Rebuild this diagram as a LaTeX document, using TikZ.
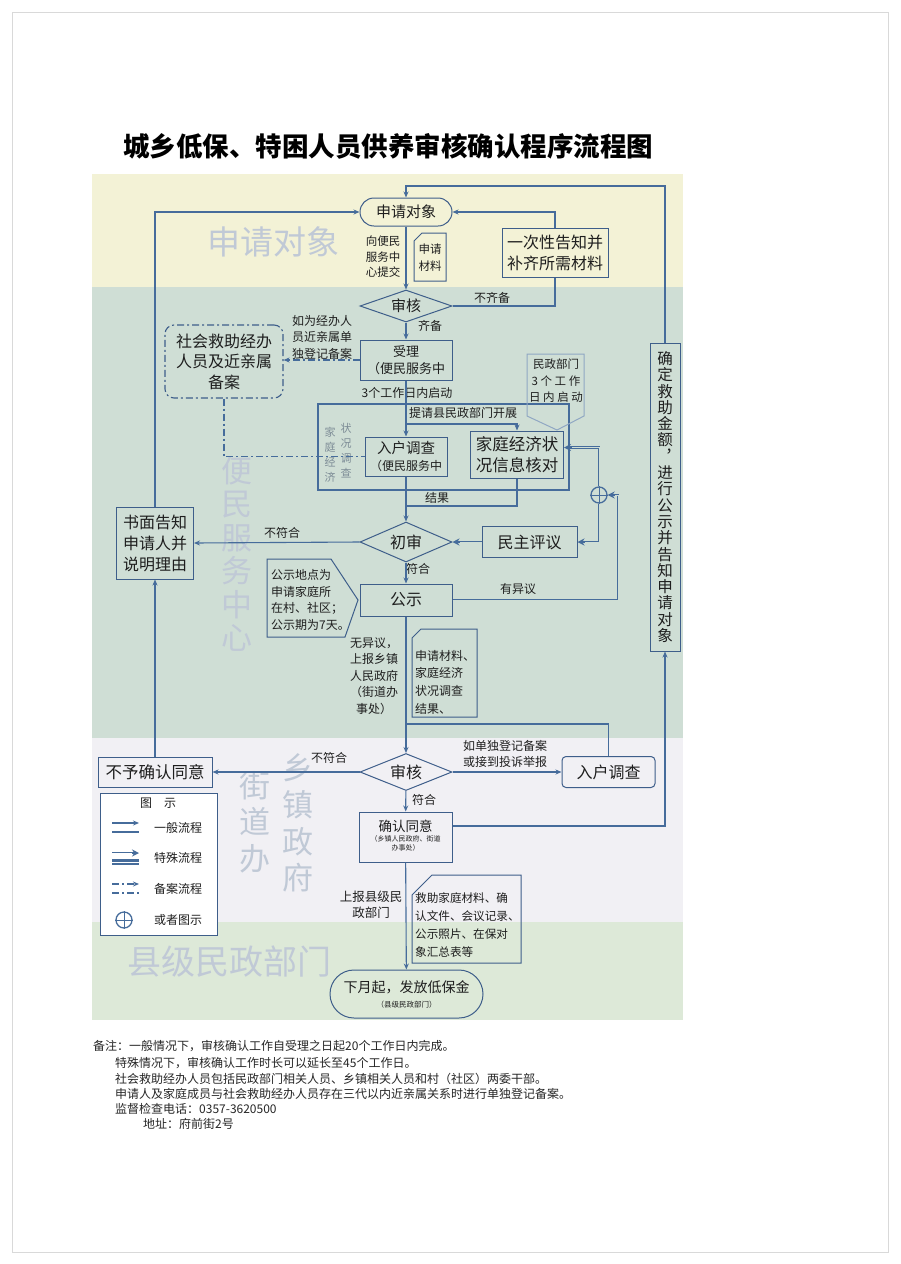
\documentclass[tikz,border=0pt]{standalone}
\usepackage{fontspec}
\setmainfont{Noto Sans CJK SC}
\usetikzlibrary{shapes.geometric,arrows.meta}
\definecolor{ln}{RGB}{70,108,155}
\definecolor{bx}{RGB}{62,94,138}
\definecolor{bandY}{RGB}{243,242,214}
\definecolor{bandG}{RGB}{207,222,213}
\definecolor{bandW}{RGB}{241,240,244}
\definecolor{bandL}{RGB}{221,233,216}
\definecolor{wm}{RGB}{192,201,214}
\definecolor{txt}{RGB}{30,30,30}
\definecolor{gtxt}{RGB}{125,140,150}
\newcommand\Fs[2]{\fontsize{#1}{#2}\selectfont}
\newcommand\specline[2]{\draw[spo] #2; \draw[spi, draw=#1] #2;}
\begin{document}
\begin{tikzpicture}[x=1pt,y=-1pt,
  box/.style={draw=bx, line width=1pt, inner sep=0pt, align=center, text=txt},
  lbl/.style={inner sep=0pt, align=center, text=txt, font=\Fs{12}{16.5}},
  flow/.style={draw=ln, line width=1.1pt, -{Stealth[length=6pt,width=5pt]}},
  plain/.style={draw=ln, line width=1.1pt},
  dd/.style={draw=ln, line width=1.1pt, dash pattern=on 7pt off 3pt on 2pt off 3pt},
  spo/.style={draw=ln, line width=2.6pt, -{Stealth[length=7pt,width=7pt]}},
  spi/.style={line width=0.9pt, shorten >=7.5pt},
  wmark/.style={inner sep=0pt, align=center, text=wm},
  dia/.style={box, diamond, inner sep=0pt}]
\useasboundingbox (0,0) rectangle (900,1264);
\fill[white] (0,0) rectangle (900,1264);
\draw[black!15, line width=0.8pt] (12,12) rectangle (888,1252);
% bands
\fill[bandY] (92,174) rectangle (683,287);
\fill[bandG] (92,287) rectangle (683,738);
\fill[bandW] (92,738) rectangle (683,922);
\fill[bandL] (92,922) rectangle (683,1020);
% title
\node[inner sep=0pt, text=black, font=\Fs{26.5}{30}\bfseries] (title) at (388,146) {城乡低保、特困人员供养审核确认程序流程图};
% watermarks
\node[wmark, font=\Fs{33}{36}] (wm1) at (273,242) {申请对象};
\node[wmark, font=\Fs{31}{33.5}] (wm2) at (237,554) {便\\民\\服\\务\\中\\心};
\node[wmark, font=\Fs{31}{36.5}] (wm3) at (255,822) {街\\道\\办};
\node[wmark, font=\Fs{31}{36.7}] (wm4) at (298,823) {乡\\镇\\政\\府};
\node[wmark, font=\Fs{34}{36}] (wm5) at (229,962) {县级民政部门};
% frame of household survey
\draw[plain] (318,404) rectangle (569,490);
% nodes
\node[box, rounded corners=14pt, minimum width=92pt, minimum height=28pt, font=\Fs{15}{18}] (req) at (406,212) {申请对象};
\node[box, minimum width=106pt, minimum height=49pt, font=\Fs{16}{21}] (once) at (555,252.5) {一次性告知并\\补齐所需材料};
\node[dia, aspect=2.875, minimum width=92pt, minimum height=32pt, font=\Fs{15}{18}] (chk1) at (406,306) {审核};
\node[box, minimum width=92pt, minimum height=40pt, font=\Fs{13}{16.5}] (rec) at (406,360) {受理\\（便民服务中};
\node[box, dd, draw=bx, rounded corners=9pt, minimum width=118pt, minimum height=73pt, font=\Fs{16}{20.5}] (soc) at (224,361.5) {社会救助经办\\人员及近亲属\\备案};
\node[box, minimum width=82pt, minimum height=39pt, font=\Fs{14.5}{17}] (visit1) at (406,456.5) {入户调查\\\Fs{12}{14}（便民服务中};
\node[box, minimum width=93pt, minimum height=47pt, font=\Fs{16.5}{21}] (fam) at (517,454.5) {家庭经济状\\况信息核对};
\node[dia, aspect=2.3, minimum width=92pt, minimum height=40pt, font=\Fs{16}{18}] (init) at (406,542) {初审};
\node[box, minimum width=95pt, minimum height=31pt, font=\Fs{16}{18}] (demo) at (529.5,542) {民主评议};
\node[circle, draw=ln, line width=1.3pt, minimum size=16pt, inner sep=0pt] (oplus) at (599,495) {};
\draw[ln, line width=0.9pt] (oplus.north) -- (oplus.south) (oplus.west) -- (oplus.east);
\node[box, minimum width=77pt, minimum height=72pt, font=\Fs{16}{21}] (notify) at (155,543) {书面告知\\申请人并\\说明理由};
\node[box, minimum width=92pt, minimum height=32pt, font=\Fs{16}{18}] (pub) at (406,600) {公示};
\node[dia, aspect=2.5, minimum width=92pt, minimum height=37pt, font=\Fs{16}{18}] (chk2) at (406,772) {审核};
\node[box, minimum width=114pt, minimum height=30pt, font=\Fs{16.5}{18}] (deny) at (155,772) {不予确认同意};
\node[box, rounded corners=4pt, minimum width=93pt, minimum height=31pt, font=\Fs{16}{18}] (visit2) at (608.5,772) {入户调查};
\node[box, minimum width=93pt, minimum height=50pt, font=\Fs{13.5}{17}] (confirm) at (405.5,837) {确认同意\\[-3pt]{\Fs{7}{9.5}\begin{tabular}{@{}c@{}}（乡镇人民政府、街道\\办事处）\end{tabular}}};
\node[box, minimum width=30pt, minimum height=308pt, font=\Fs{15.5}{16.3}] (det) at (665,497) {确\\定\\救\\助\\金\\额\\︐\\进\\行\\公\\示\\并\\告\\知\\申\\请\\对\\象};
\node[box, rounded corners=24pt, minimum width=153pt, minimum height=48pt, font=\Fs{14}{17}] (issue) at (406.5,994) {下月起，发放低保金\\[-2pt]{\Fs{7.5}{10}（县级民政部门）}};
% document / note shapes
\draw[box] (414,241) -- (422,233) -- (446,233) -- (446,281) -- (414,281) -- cycle;
\node[lbl, font=\Fs{11.5}{17}] (doc1) at (430,258) {申请\\材料};
\draw[draw=ln!60, line width=1pt] (527,354) -- (584,354) -- (584,416) -- (557,430) -- (527,416) -- cycle;
\node[lbl, font=\Fs{11.5}{16.5}] (pent) at (556,381) {民政部门\\3 个 工 作\\日 内 启 动};
\draw[box] (267,559) -- (331,559) -- (358,600) -- (345,637) -- (267,637) -- cycle;
\node[lbl, align=left, anchor=west] (pnote) at (271,600) {公示地点为\\申请家庭所\\在村、社区；\\公示期为7天。};
\draw[box] (412,638) -- (421,629) -- (477,629) -- (477,717) -- (412,717) -- cycle;
\node[lbl, align=left, anchor=west, font=\Fs{12}{17.7}] (doc2) at (415,682) {申请材料、\\家庭经济\\状况调查\\结果、};
\draw[box] (412,895) -- (432,875) -- (521,875) -- (521,963) -- (412,963) -- cycle;
\node[lbl, align=left, anchor=west, font=\Fs{11.6}{18}] (doc3) at (415,925) {救助家庭材料、确\\认文件、会议记录、\\公示照片、在保对\\象汇总表等};
% labels
\node[lbl, font=\Fs{11.5}{15.5}] (l1) at (383,257) {向便民\\服务中\\心提交};
\node[lbl] (l2) at (492,298) {不齐备};
\node[lbl] (l3) at (430,326) {齐备};
\node[lbl] (l4) at (322,337) {如为经办人\\员近亲属单\\独登记备案};
\node[lbl] (l5) at (407,393) {3个工作日内启动};
\node[lbl] (l6) at (463,413) {提请县民政部门开展};
\node[lbl, text=gtxt, font=\Fs{11}{15}] (v1) at (330,455) {家\\庭\\经\\济};
\node[lbl, text=gtxt, font=\Fs{11}{15}] (v2) at (346,451) {状\\况\\调\\查};
\node[lbl] (l7) at (437,498) {结果};
\node[lbl] (l8) at (282,533) {不符合};
\node[lbl] (l9) at (418,569) {符合};
\node[lbl] (l10) at (518,589) {有异议};
\node[lbl] (l11) at (374,676) {无异议，\\上报乡镇\\人民政府\\（街道办\\事处）};
\node[lbl] (l12) at (329,758) {不符合};
\node[lbl, font=\Fs{12}{16}] (l13) at (505,754) {如单独登记备案\\或接到投诉举报};
\node[lbl] (l14) at (424,800) {符合};
\node[lbl, font=\Fs{12.5}{16}] (l15) at (371,905) {上报县级民\\政部门};
% connectors
\draw[flow] (req) -- (chk1);
\draw[plain] (chk1.east) -| (once.south);
\draw[flow] (once.north) |- (req.east);
\coordinate (tr) at (406,186);
\draw[flow] (det.north) |- (tr) -- (req.north);
\draw[flow] (notify.north) |- (req.west);
\draw[flow] (chk1) -- (rec);
\draw[dd, -{Stealth[length=6pt,width=5pt]}] (rec.west) -- (rec.west -| soc.east);
\draw[flow] (rec) -- (visit1);
\coordinate (br) at (406,424);
\draw[flow] (br) -| (fam.north);
\draw[dd] (soc.south) |- (visit1.west);
\draw[flow] (visit1) -- (init);
\coordinate (mg) at (406,506);
\draw[plain] (fam.south) |- (mg);
\draw[flow] (init.west) -- (notify.east);
\specline{bandG}{(demo.west) -- (init.east)}
\specline{bandG}{(oplus.north) |- ([yshift=7pt]fam.east)}
\specline{bandG}{(oplus.south) |- (demo.east)}
\coordinate (rr) at (618,600);
\specline{bandG}{(pub.east) -- (rr) |- (oplus.east)}
\draw[flow] (init) -- (pub);
\draw[flow] (pub) -- (chk2);
\coordinate (mg2) at (406,724);
\draw[plain] (visit2.north) |- (mg2);
\draw[flow] (chk2.west) -- (deny.east);
\draw[flow] (deny) -- (notify);
\draw[flow] (chk2.east) -- (visit2.west);
\draw[flow] (chk2) -- (confirm);
\draw[flow] ([yshift=11pt]confirm.east) -| (det.south);
\draw[flow] (confirm) -- (issue);
% legend
\draw[draw=bx, line width=1pt, fill=white] (100,793) rectangle (217,935);
\node[lbl] (lg0) at (158,803) {图\quad 示};
\draw[flow] (112,823) -- (139,823);
\draw[ln, line width=2.4pt] (112,832) -- (139,832);
\node[lbl] (lg1) at (178,828) {一般流程};
\specline{white}{(112,853) -- (139,853)}
\draw[ln, line width=2.2pt, double=white, double distance=0.8pt] (112,862) -- (139,862);
\node[lbl] (lg2) at (178,858) {特殊流程};
\draw[dd, -{Stealth[length=6pt,width=5pt]}] (112,884) -- (139,884);
\draw[dd] (112,893) -- (139,893);
\node[lbl] (lg3) at (178,889) {备案流程};
\node[circle, draw=ln, line width=1.3pt, minimum size=16pt, inner sep=0pt] (lgo) at (124,920) {};
\draw[ln, line width=0.9pt] (lgo.north) -- (lgo.south) (lgo.west) -- (lgo.east);
\node[lbl] (lg4) at (178,920) {或者图示};
% notes
\node[lbl, anchor=west, text=black!85] (n1) at (93,1046) {备注：一般情况下，审核确认工作自受理之日起20个工作日内完成。};
\node[lbl, anchor=west, text=black!85] (n2) at (115,1063) {特殊情况下，审核确认工作时长可以延长至45个工作日。};
\node[lbl, anchor=west, text=black!85] (n3) at (115,1079) {社会救助经办人员包括民政部门相关人员、乡镇相关人员和村（社区）两委干部。};
\node[lbl, anchor=west, text=black!85] (n4) at (115,1094) {申请人及家庭成员与社会救助经办人员存在三代以内近亲属关系时进行单独登记备案。};
\node[lbl, anchor=west, text=black!85] (n5) at (115,1109) {监督检查电话：0357-3620500};
\node[lbl, anchor=west, text=black!85] (n6) at (143,1124) {地址：府前街2号};
\end{tikzpicture}
\end{document}
